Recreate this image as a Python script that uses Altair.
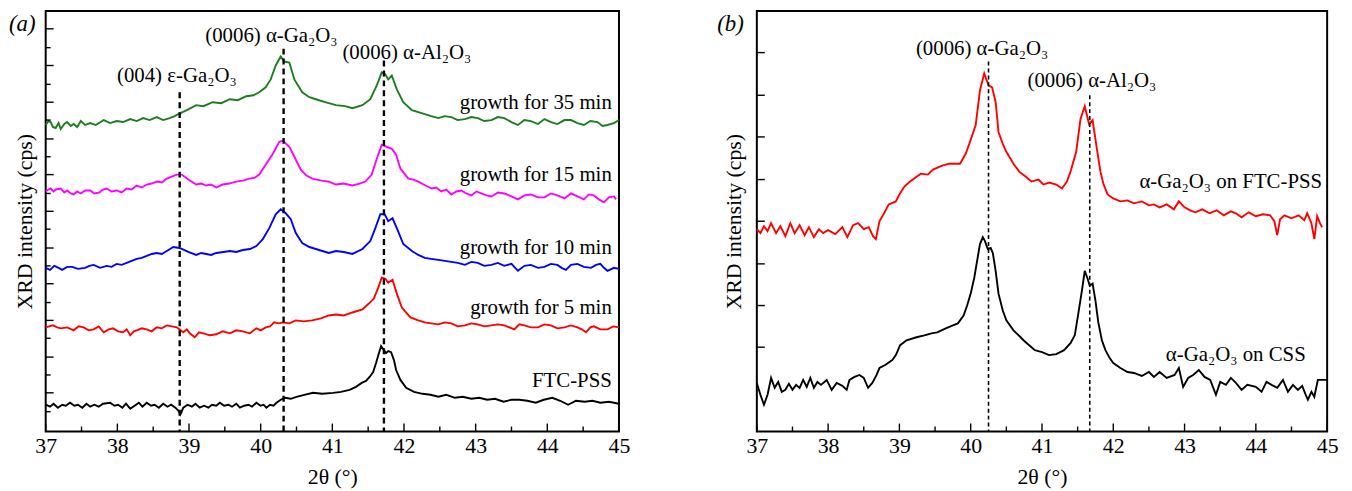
import altair as alt
import pandas as pd

FONT = "Liberation Serif"

# ---------------- data: panel (a) ----------------
# (2theta in degrees, intensity in arbitrary units incl. vertical offset)
A_35MIN = [(37.00,309),(37.04,313),(37.07,312),(37.10,307),(37.14,306),(37.18,311),(37.21,305),(37.26,310),(37.30,312),(37.35,308),
           (37.39,310),(37.44,307),(37.49,313),(37.55,309),(37.62,311),(37.70,309),(37.81,314),(37.90,311),(37.99,313),(38.08,312),
           (38.18,315),(38.27,313),(38.36,316),(38.45,314),(38.55,317),(38.64,314),(38.73,316),(38.80,318),(38.85,320),(38.97,324),
           (39.10,329),(39.20,328),(39.33,332),(39.45,331),(39.57,335),(39.68,334),(39.80,338),(39.90,339),(39.98,342),(40.07,347),
           (40.14,355),(40.21,369),(40.28,378),(40.33,373),(40.40,372),(40.47,355),(40.58,342),(40.68,337),(40.77,335),(40.90,332),
           (41.05,329),(41.18,328),(41.28,326),(41.42,329),(41.53,335),(41.62,349),(41.69,362),(41.74,360),(41.78,355),(41.83,359),
           (41.90,345),(41.99,332),(42.11,324),(42.20,322),(42.29,320),(42.38,318),(42.48,316),(42.57,318),(42.66,317),(42.75,314),
           (42.85,315),(42.94,317),(43.03,316),(43.12,313),(43.22,314),(43.31,317),(43.40,316),(43.50,312),(43.59,309),(43.68,314),
           (43.77,313),(43.87,310),(43.96,315),(44.05,312),(44.14,310),(44.24,314),(44.33,314),(44.42,311),(44.51,309),(44.60,313),
           (44.70,312),(44.77,308),(44.84,309),(44.93,311),(45.00,314)]

A_15MIN = [(37.00,242),(37.04,244),(37.07,245),(37.11,242),(37.14,244),(37.21,245),(37.26,241),(37.30,243),(37.35,240),(37.39,239),
           (37.44,242),(37.49,240),(37.55,243),(37.62,243),(37.68,240),(37.75,241),(37.80,244),(37.85,245),(37.92,242),(37.99,243),
           (38.06,241),(38.13,245),(38.20,244),(38.27,248),(38.34,246),(38.41,249),(38.48,250),(38.55,252),(38.62,251),(38.69,255),
           (38.76,257),(38.83,259),(38.90,259),(38.99,254),(39.10,249),(39.17,250),(39.24,248),(39.31,249),(39.38,246),(39.47,249),
           (39.56,250),(39.66,252),(39.75,253),(39.84,255),(39.92,256),(39.98,259),(40.07,269),(40.17,280),(40.26,292),(40.31,293),
           (40.40,287),(40.47,277),(40.56,264),(40.64,258),(40.72,255),(40.85,253),(40.95,252),(41.05,249),(41.16,250),(41.28,248),
           (41.38,250),(41.46,252),(41.55,259),(41.62,275),(41.69,289),(41.76,287),(41.83,285),(41.89,279),(41.95,265),(42.06,255),
           (42.13,254),(42.20,252),(42.30,248),(42.39,245),(42.45,246),(42.52,242),(42.59,244),(42.66,239),(42.73,242),(42.80,243),
           (42.87,240),(42.94,238),(43.01,242),(43.08,240),(43.15,238),(43.22,237),(43.31,241),(43.40,240),(43.50,237),(43.59,234),
           (43.68,238),(43.77,239),(43.87,236),(43.96,236),(44.05,240),(44.14,238),(44.24,235),(44.33,240),(44.42,237),(44.51,234),
           (44.58,239),(44.65,238),(44.72,234),(44.79,231),(44.86,236),(44.93,237),(44.96,234)]

A_10MIN = [(37.00,165),(37.06,163),(37.12,167),(37.18,165),(37.23,163),(37.30,166),(37.37,166),(37.45,164),(37.55,165),(37.61,167),
           (37.67,168),(37.76,165),(37.85,167),(37.92,166),(37.99,169),(38.06,168),(38.13,170),(38.20,172),(38.27,174),(38.34,175),
           (38.41,177),(38.48,179),(38.55,180),(38.62,179),(38.69,182),(38.78,186),(38.87,185),(38.99,181),(39.10,178),(39.17,180),
           (39.24,179),(39.31,178),(39.38,180),(39.48,181),(39.57,182),(39.66,181),(39.75,183),(39.85,184),(39.94,187),(40.03,194),
           (40.12,205),(40.21,219),(40.28,224),(40.35,220),(40.42,214),(40.49,200),(40.58,190),(40.68,186),(40.77,184),(40.86,182),
           (40.95,180),(41.05,182),(41.16,181),(41.28,179),(41.42,184),(41.53,192),(41.60,205),(41.67,219),(41.73,219),(41.78,212),
           (41.84,215),(41.90,205),(41.99,189),(42.11,182),(42.20,178),(42.29,175),(42.38,174),(42.48,173),(42.57,172),(42.66,171),
           (42.75,170),(42.85,168),(42.94,171),(43.03,170),(43.12,167),(43.22,168),(43.31,170),(43.40,167),(43.50,169),(43.59,162),
           (43.68,167),(43.77,168),(43.87,165),(43.96,166),(44.05,169),(44.14,168),(44.20,165),(44.26,163),(44.33,168),(44.42,169),
           (44.51,166),(44.61,165),(44.68,168),(44.74,169),(44.79,165),(44.84,162),(44.93,165),(45.00,164)]

A_5MIN = [(37.00,105),(37.05,106),(37.10,107),(37.16,105),(37.21,104),(37.30,105),(37.39,102),(37.46,106),(37.53,105),(37.60,102),
          (37.67,103),(37.74,106),(37.81,100),(37.88,103),(37.94,104),(38.01,101),(38.08,100),(38.13,103),(38.18,97),(38.23,101),
          (38.27,102),(38.34,104),(38.41,103),(38.48,101),(38.55,105),(38.62,104),(38.69,107),(38.76,106),(38.83,105),(38.92,100),
          (38.97,103),(39.01,99),(39.08,95),(39.14,100),(39.20,99),(39.29,97),(39.38,98),(39.47,101),(39.57,99),(39.66,102),
          (39.75,101),(39.85,99),(39.94,104),(40.00,102),(40.07,105),(40.13,106),(40.19,110),(40.25,109),(40.31,110),(40.40,109),
          (40.49,112),(40.60,111),(40.72,112),(40.84,114),(40.95,117),(41.05,118),(41.16,117),(41.28,120),(41.42,123),(41.51,129),
          (41.58,134),(41.64,145),(41.69,155),(41.74,154),(41.78,150),(41.84,153),(41.90,139),(41.97,125),(42.09,115),(42.20,112),
          (42.29,110),(42.38,109),(42.48,108),(42.57,110),(42.66,109),(42.75,106),(42.85,107),(42.94,109),(43.03,108),(43.12,106),
          (43.22,107),(43.31,108),(43.40,107),(43.47,105),(43.54,103),(43.61,108),(43.68,107),(43.77,105),(43.87,105),(43.96,108),
          (44.05,107),(44.14,104),(44.24,105),(44.33,107),(44.42,105),(44.48,103),(44.54,100),(44.60,105),(44.65,106),(44.74,103),
          (44.84,103),(44.92,106),(45.00,105)]

A_FTC = [(37.00,27),(37.06,25),(37.11,28),(37.17,24),(37.23,27),(37.28,26),(37.34,29),(37.40,26),(37.45,27),(37.51,24),
         (37.57,28),(37.62,25),(37.68,27),(37.74,25),(37.80,28),(37.90,29),(37.96,26),(38.01,27),(38.07,24),(38.12,28),
         (38.18,23),(38.24,26),(38.30,29),(38.35,25),(38.41,29),(38.47,26),(38.52,27),(38.58,24),(38.64,28),(38.70,25),
         (38.75,27),(38.81,24),(38.85,21),(38.88,17),(38.92,24),(38.98,27),(39.04,25),(39.09,28),(39.15,24),(39.21,26),
         (39.27,24),(39.32,27),(39.38,26),(39.43,29),(39.49,26),(39.55,27),(39.60,25),(39.66,28),(39.71,24),(39.77,26),
         (39.83,27),(39.88,25),(39.94,29),(40.00,26),(40.04,27),(40.08,24),(40.13,27),(40.18,26),(40.22,29),(40.28,32),
         (40.34,34),(40.42,33),(40.50,35),(40.61,37),(40.73,39),(40.86,38),(41.01,39),(41.12,40),(41.24,42),(41.33,45),
         (41.41,49),(41.47,51),(41.52,55),(41.57,60),(41.61,69),(41.65,79),(41.68,86),(41.72,82),(41.75,79),(41.78,81),
         (41.82,80),(41.86,72),(41.89,62),(41.95,52),(42.03,44),(42.14,40),(42.26,38),(42.37,37),(42.48,35),(42.59,37),
         (42.71,34),(42.82,35),(42.94,33),(43.05,34),(43.16,32),(43.27,33),(43.39,30),(43.50,32),(43.61,32),(43.72,31),
         (43.84,29),(43.95,32),(44.07,34),(44.18,31),(44.29,27),(44.40,31),(44.52,30),(44.63,31),(44.74,29),(44.86,30),
         (45.00,28)]

A_SERIES = ["growth for 35 min", "growth for 15 min", "growth for 10 min", "growth for 5 min", "FTC-PSS"]
A_COLORS = ["#1b7d1b", "#ff00ff", "#0000ff", "#ff0000", "#000000"]
A_CURVES = [A_35MIN, A_15MIN, A_10MIN, A_5MIN, A_FTC]

A_LABEL_X = [44.9, 44.9, 44.9, 44.9, 44.9]
A_LABEL_Y = [331, 259, 185, 124, 51]

A_PEAK_X = [38.87, 40.32, 41.72]
A_PEAK_TOP = [342, 386, 374]
A_PEAK_TEXT = ["(004) ε-Ga₂O₃", "(0006) α-Ga₂O₃", "(0006) α-Al₂O₃"]
A_PEAK_TEXT_X = [38.83, 40.15, 42.04]
A_PEAK_TEXT_Y = [358, 399, 382]

A_YTICK_MAJOR = [39, 75, 112, 149, 185, 222, 259, 295, 332, 369, 406]
A_YTICK_MINOR = [20, 57, 94, 130, 167, 204, 240, 277, 314, 350, 387]

# ---------------- data: panel (b) ----------------
B_FTC = [(37.00,204),(37.05,200),(37.10,207),(37.15,202),(37.20,210),(37.27,200),(37.33,207),(37.40,197),(37.47,210),(37.53,200),
         (37.60,208),(37.67,198),(37.73,206),(37.80,196),(37.87,204),(37.93,200),(38.00,203),(38.10,199),(38.20,206),(38.27,196),
         (38.35,208),(38.42,210),(38.50,204),(38.57,206),(38.63,197),(38.67,194),(38.72,212),(38.80,222),(38.85,229),(38.95,232),
         (39.00,239),(39.07,247),(39.15,252),(39.30,260),(39.40,259),(39.47,264),(39.60,268),(39.70,270),(39.85,270),(39.93,280),
         (39.99,292),(40.07,309),(40.13,344),(40.19,361),(40.25,349),(40.30,347),(40.35,332),(40.39,302),(40.45,290),(40.50,282),
         (40.60,270),(40.68,262),(40.77,257),(40.85,252),(40.95,254),(41.02,249),(41.10,251),(41.20,249),(41.28,245),(41.35,252),
         (41.40,262),(41.48,282),(41.54,315),(41.60,328),(41.66,310),(41.71,314),(41.77,285),(41.82,262),(41.86,250),(41.92,239),
         (42.00,235),(42.10,232),(42.20,233),(42.29,230),(42.40,232),(42.50,228),(42.57,229),(42.65,226),(42.75,229),(42.85,224),
         (42.92,232),(43.00,226),(43.08,223),(43.15,221),(43.25,224),(43.35,220),(43.45,223),(43.55,218),(43.65,222),(43.72,220),
         (43.80,216),(43.90,221),(44.00,217),(44.10,219),(44.20,218),(44.26,212),(44.30,198),(44.34,214),(44.40,218),(44.50,215),
         (44.60,218),(44.68,213),(44.72,220),(44.78,210),(44.82,194),(44.86,217),(44.90,210),(44.93,206)]

B_CSS = [(37.00,49),(37.05,37),(37.10,27),(37.15,37),(37.20,54),(37.25,44),(37.30,50),(37.35,40),(37.40,42),(37.45,48),
         (37.50,42),(37.55,47),(37.60,44),(37.65,52),(37.70,45),(37.75,54),(37.80,44),(37.85,50),(37.90,47),(37.98,52),
         (38.05,42),(38.12,49),(38.20,46),(38.26,42),(38.30,52),(38.37,55),(38.44,57),(38.50,54),(38.56,44),(38.62,49),
         (38.68,57),(38.72,64),(38.80,67),(38.90,72),(38.95,77),(39.01,87),(39.10,92),(39.24,95),(39.35,97),(39.45,99),
         (39.53,100),(39.65,104),(39.75,107),(39.82,109),(39.90,117),(39.95,127),(40.00,139),(40.05,155),(40.09,172),(40.13,189),
         (40.17,196),(40.20,192),(40.24,184),(40.28,185),(40.31,180),(40.35,162),(40.39,139),(40.45,122),(40.50,112),(40.60,102),
         (40.70,95),(40.74,92),(40.82,87),(40.90,82),(41.00,80),(41.10,77),(41.20,78),(41.31,82),(41.40,89),(41.46,97),
         (41.51,119),(41.56,142),(41.60,162),(41.64,154),(41.67,147),(41.71,149),(41.75,132),(41.79,110),(41.84,92),(41.89,82),
         (41.95,74),(42.00,69),(42.10,64),(42.20,60),(42.29,59),(42.40,56),(42.50,60),(42.57,55),(42.65,60),(42.75,54),
         (42.86,57),(42.92,64),(42.98,45),(43.05,54),(43.12,57),(43.20,62),(43.28,55),(43.36,52),(43.44,37),(43.50,50),
         (43.58,47),(43.65,54),(43.72,49),(43.80,42),(43.88,47),(44.00,45),(44.08,40),(44.15,50),(44.22,47),(44.30,44),
         (44.38,52),(44.45,40),(44.52,47),(44.59,42),(44.65,46),(44.70,37),(44.73,32),(44.78,40),(44.82,35),(44.87,52),
         (45.00,52)]

B_SERIES = ["α-Ga₂O₃ on FTC-PSS", "α-Ga₂O₃ on CSS"]
B_COLORS = ["#ff0000", "#000000"]
B_CURVES = [B_FTC, B_CSS]

B_LABEL_X = [44.93, 44.70]
B_LABEL_Y = [251, 77]

B_PEAK_X = [40.25, 41.67]
B_PEAK_TOP = [373, 339]
B_PEAK_TEXT = ["(0006) α-Ga₂O₃", "(0006) α-Al₂O₃"]
B_PEAK_TEXT_X = [40.16, 41.70]
B_PEAK_TEXT_Y = [386, 353]

B_YTICK_MAJOR = [85, 127, 169, 212, 254, 297, 339, 382]
B_YTICK_MINOR = []

X_MAJOR = [37, 38, 39, 40, 41, 42, 43, 44, 45]
X_MINOR = [37.5, 38.5, 39.5, 40.5, 41.5, 42.5, 43.5, 44.5]

H = 424
X_DOMAIN = [37, 45]
Y_DOMAIN = [0, 424]


def build_panel(curves, series, colors, label_x, label_y, peak_x, peak_top, peak_text,
                peak_tx, peak_ty, ytick_major, ytick_minor, letter, width, dash, dash_w,
                letter_dx, title_pad):
    xs = alt.Scale(domain=X_DOMAIN, nice=False, zero=False)
    ys = alt.Scale(domain=Y_DOMAIN, nice=False, zero=False)
    xaxis = alt.Axis(values=X_MAJOR, ticks=False, domain=False, grid=False,
                     labelFont=FONT, labelFontSize=22, labelColor="#000",
                     labelPadding=4, labelFlush=False,
                     title="2θ (°)", titleFont=FONT, titleFontSize=22,
                     titleFontWeight="normal", titleColor="#000", titlePadding=10)
    yaxis = alt.Axis(ticks=False, labels=False, domain=False, grid=False,
                     title="XRD intensity (cps)", titleFont=FONT, titleFontSize=22,
                     titleFontWeight="normal", titleColor="#000", titlePadding=title_pad)

    def X(f):
        return alt.X(f, scale=xs, axis=xaxis, title="2θ (°)")

    def Y(f):
        return alt.Y(f, scale=ys, axis=yaxis, title="XRD intensity (cps)")

    rows = []
    for name, pts in zip(series, curves):
        for i, (x, y) in enumerate(pts):
            rows.append({"series": name, "theta": x, "intensity": y, "order": i})
    df = pd.DataFrame(rows)

    lines = alt.Chart(df).mark_line(strokeWidth=1.9, interpolate="linear").encode(
        x=X("theta:Q"),
        y=Y("intensity:Q"),
        color=alt.Color("series:N", scale=alt.Scale(domain=series, range=colors), legend=None),
        detail="series:N",
        order="order:Q",
    )

    peaks = pd.DataFrame({"x": peak_x, "top": peak_top, "bottom": [0] * len(peak_x)})
    dashed = alt.Chart(peaks).mark_rule(color="#000", strokeDash=dash, strokeWidth=dash_w).encode(
        x=X("x:Q"), y=Y("top:Q"), y2="bottom:Q",
    )

    ptext = pd.DataFrame({"x": peak_tx, "y": peak_ty, "t": peak_text})
    peak_labels = alt.Chart(ptext).mark_text(font=FONT, fontSize=21, color="#000",
                                             align="center", baseline="middle").encode(
        x=X("x:Q"), y=Y("y:Q"), text="t:N",
    )

    stext = pd.DataFrame({"x": label_x, "y": label_y, "t": series})
    series_labels = alt.Chart(stext).mark_text(font=FONT, fontSize=21, color="#000",
                                               align="right", baseline="middle").encode(
        x=X("x:Q"), y=Y("y:Q"), text="t:N",
    )

    layers = [lines, dashed, peak_labels, series_labels]

    yt_major = alt.Chart(pd.DataFrame({"v": ytick_major})).mark_rule(color="#000", strokeWidth=1.4).encode(
        y=Y("v:Q"), x=alt.value(0), x2=alt.value(8))
    layers.append(yt_major)
    if ytick_minor:
        yt_minor = alt.Chart(pd.DataFrame({"v": ytick_minor})).mark_rule(color="#000", strokeWidth=1.4).encode(
            y=Y("v:Q"), x=alt.value(0), x2=alt.value(5))
        layers.append(yt_minor)

    xt_major = alt.Chart(pd.DataFrame({"v": X_MAJOR})).mark_rule(color="#000", strokeWidth=1.4).encode(
        x=X("v:Q"), y=alt.value(H), y2=alt.value(H - 8))
    xt_minor = alt.Chart(pd.DataFrame({"v": X_MINOR})).mark_rule(color="#000", strokeWidth=1.4).encode(
        x=X("v:Q"), y=alt.value(H), y2=alt.value(H - 5))
    layers += [xt_major, xt_minor]

    letter_mark = alt.Chart(pd.DataFrame({"t": [letter]})).mark_text(
        font=FONT, fontSize=23, fontStyle="italic", color="#000", align="left", baseline="middle"
    ).encode(text="t:N", x=alt.value(letter_dx), y=alt.value(13))
    layers.append(letter_mark)

    return alt.layer(*layers).properties(width=width, height=H)


panel_a = build_panel(A_CURVES, A_SERIES, A_COLORS, A_LABEL_X, A_LABEL_Y, A_PEAK_X, A_PEAK_TOP,
                      A_PEAK_TEXT, A_PEAK_TEXT_X, A_PEAK_TEXT_Y, A_YTICK_MAJOR, A_YTICK_MINOR,
                      "(a)", 578, [6, 4], 2.4, -37, 9)
panel_b = build_panel(B_CURVES, B_SERIES, B_COLORS, B_LABEL_X, B_LABEL_Y, B_PEAK_X, B_PEAK_TOP,
                      B_PEAK_TEXT, B_PEAK_TEXT_X, B_PEAK_TEXT_Y, B_YTICK_MAJOR, B_YTICK_MINOR,
                      "(b)", 575, [4, 3], 1.6, -40, 11)

chart = alt.hconcat(panel_a, panel_b, spacing=86).resolve_scale(
    color="independent", x="independent", y="independent"
).properties(
    padding={"left": 0, "top": 0, "right": 5, "bottom": 0},
    background="white",
).configure_view(stroke="#000", strokeWidth=2)

chart.save("out.html", embed_options={"renderer": "svg", "actions": False})
